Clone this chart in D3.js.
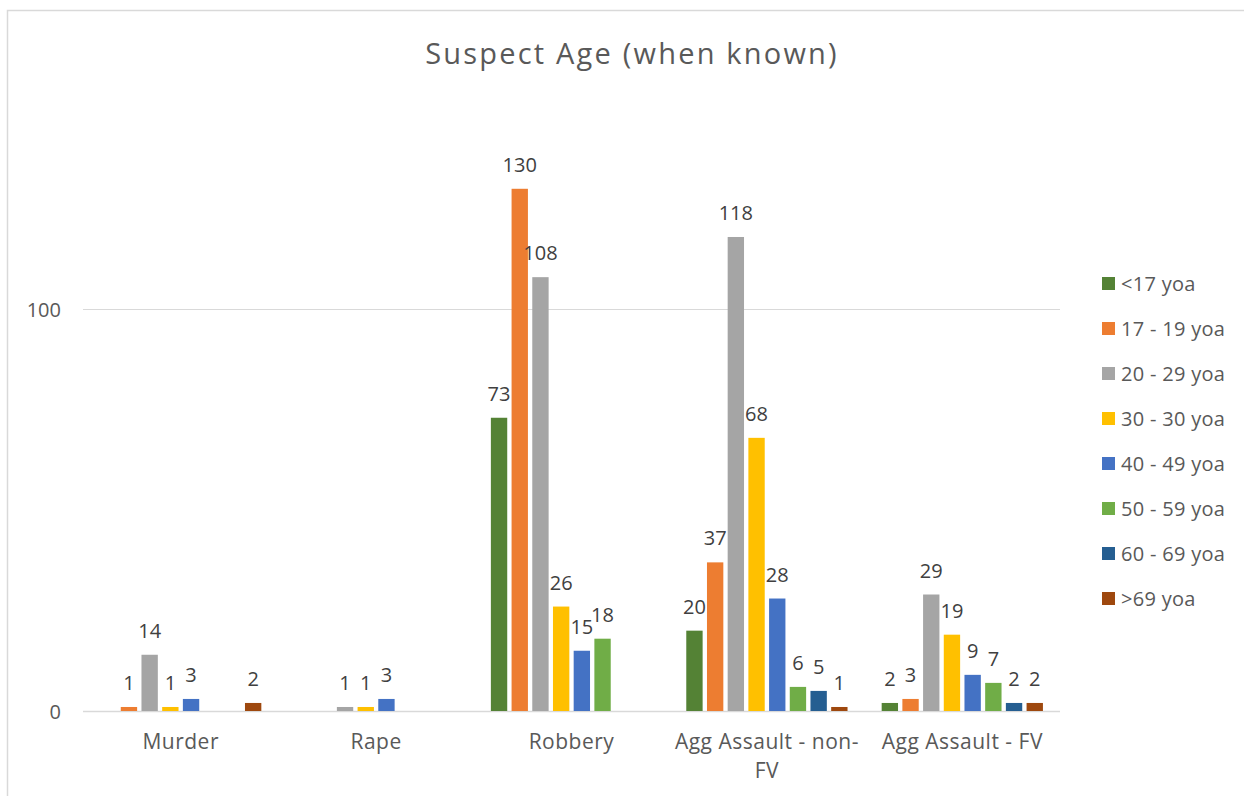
<!DOCTYPE html>
<html>
<head>
<meta charset="utf-8">
<script src="https://cdn.jsdelivr.net/npm/d3@7"></script>
<style>
  html, body { margin: 0; padding: 0; background: #fff; }
  svg { display: block; font-family: "Open Sans", sans-serif; }
</style>
</head>
<body>
<svg id="chart" width="1244" height="796"></svg>
<script>
// Crime categories and age groups
const categories = ["Murder", "Rape", "Robbery", "Agg Assault - non-FV", "Agg Assault - FV"];
const seriesNames = ["<17 yoa", "17 - 19 yoa", "20 - 29 yoa", "30 - 30 yoa", "40 - 49 yoa", "50 - 59 yoa", "60 - 69 yoa", ">69 yoa"];
const seriesColors = ["#548235", "#ED7D31", "#A5A5A5", "#FFC000", "#4472C4", "#70AD47", "#255E91", "#9E480E"];

// Counts per category, one array per age group (null = no suspects)
const under17 = [null, null, 73, 20, 2];
const age17to19 = [1, null, 130, 37, 3];
const age20to29 = [14, 1, 108, 118, 29];
const age30to30 = [1, 1, 26, 68, 19];
const age40to49 = [3, 3, 15, 28, 9];
const age50to59 = [null, null, 18, 6, 7];
const age60to69 = [null, null, null, 5, 2];
const over69 = [2, null, null, 1, 2];
const seriesValues = [under17, age17to19, age20to29, age30to30, age40to49, age50to59, age60to69, over69];

const yTicks = [0, 100];
const title = "Suspect Age (when known)";

const FONT = "'Open Sans', sans-serif";
const svg = d3.select("#chart");
const plot = { left: 83, right: 1060, top: 108, bottom: 711 };

// Chart frame
svg.append("rect")
  .attr("x", 7.5).attr("y", 10.5)
  .attr("width", 1260).attr("height", 800)
  .attr("fill", "#fff").attr("stroke", "#D9D9D9").attr("stroke-width", 1.5);

svg.append("text")
  .attr("x", 632).attr("y", 64)
  .attr("text-anchor", "middle")
  .attr("font-size", 29).attr("letter-spacing", 2.2).attr("fill", "#595959")
  .text(title);

const y = d3.scaleLinear().domain([0, 150]).range([plot.bottom, plot.bottom - 150 * 4.017]);
const x0 = d3.scaleBand().domain(categories).range([plot.left, plot.right]).padding(0);
const groupW = 165.6;
const x1 = d3.scaleBand().domain(seriesNames)
  .range([(x0.bandwidth() - groupW) / 2, (x0.bandwidth() + groupW) / 2])
  .paddingInner(0.21).paddingOuter(0.105);

// Gridlines
svg.append("g").selectAll("line")
  .data(yTicks)
  .join("line")
  .attr("x1", plot.left).attr("x2", plot.right)
  .attr("y1", d => Math.round(y(d)) + 0.5).attr("y2", d => Math.round(y(d)) + 0.5)
  .attr("stroke", "#D9D9D9").attr("stroke-width", d => d === 0 ? 1.5 : 1.2);

// Y axis labels
const yAxis = svg.append("g")
  .attr("transform", `translate(${plot.left - 22},0)`)
  .call(d3.axisLeft(y).tickValues(yTicks).tickSize(0).tickPadding(0).tickFormat(d3.format("d")));
yAxis.select(".domain").remove();
yAxis.selectAll("text")
  .attr("font-family", FONT)
  .attr("font-size", 20).attr("fill", "#595959")
  .attr("dy", "0.35em");

// Category axis
const xAxis = svg.append("g")
  .attr("transform", `translate(0,${plot.bottom})`)
  .call(d3.axisBottom(x0).tickSize(0).tickPadding(0).tickFormat(""));
xAxis.select(".domain").remove();
xAxis.selectAll(".tick").each(function(d) {
  const g = d3.select(this);
  const lines = d === "Agg Assault - non-FV" ? ["Agg Assault - non-", "FV"] : [d];
  lines.forEach((ln, i) => {
    g.append("text")
      .attr("x", 0).attr("y", 38 + i * 29)
      .attr("text-anchor", "middle")
      .attr("font-family", FONT)
      .attr("font-size", 21).attr("letter-spacing", 0.5).attr("fill", "#595959")
      .text(ln);
  });
});

// Bars
const groups = svg.append("g").selectAll("g")
  .data(categories)
  .join("g")
  .attr("transform", d => `translate(${x0(d)},0)`);

const cells = groups.selectAll("g")
  .data((c, ci) => seriesNames.map((s, si) => ({ s, si, v: seriesValues[si][ci] })).filter(d => d.v !== null))
  .join("g");

cells.append("rect")
  .attr("x", d => x1(d.s))
  .attr("width", x1.bandwidth())
  .attr("y", d => y(d.v))
  .attr("height", d => y(0) - y(d.v))
  .attr("fill", d => seriesColors[d.si]);

cells.append("text")
  .attr("x", d => x1(d.s) + x1.bandwidth() / 2)
  .attr("y", d => y(d.v) - 17)
  .attr("text-anchor", "middle")
  .attr("font-size", 20).attr("fill", "#404040")
  .text(d => d.v);

// Legend
const legend = svg.append("g").selectAll("g")
  .data(seriesNames)
  .join("g")
  .attr("transform", (d, i) => `translate(1102,${284 + i * 45})`);
legend.append("rect")
  .attr("x", 0).attr("y", -7)
  .attr("width", 13).attr("height", 13)
  .attr("fill", (d, i) => seriesColors[i]);
legend.append("text")
  .attr("x", 19).attr("y", 0).attr("dy", "0.35em")
  .attr("font-size", 20).attr("letter-spacing", 0.3).attr("fill", "#595959")
  .text(d => d);
</script>
</body>
</html>
